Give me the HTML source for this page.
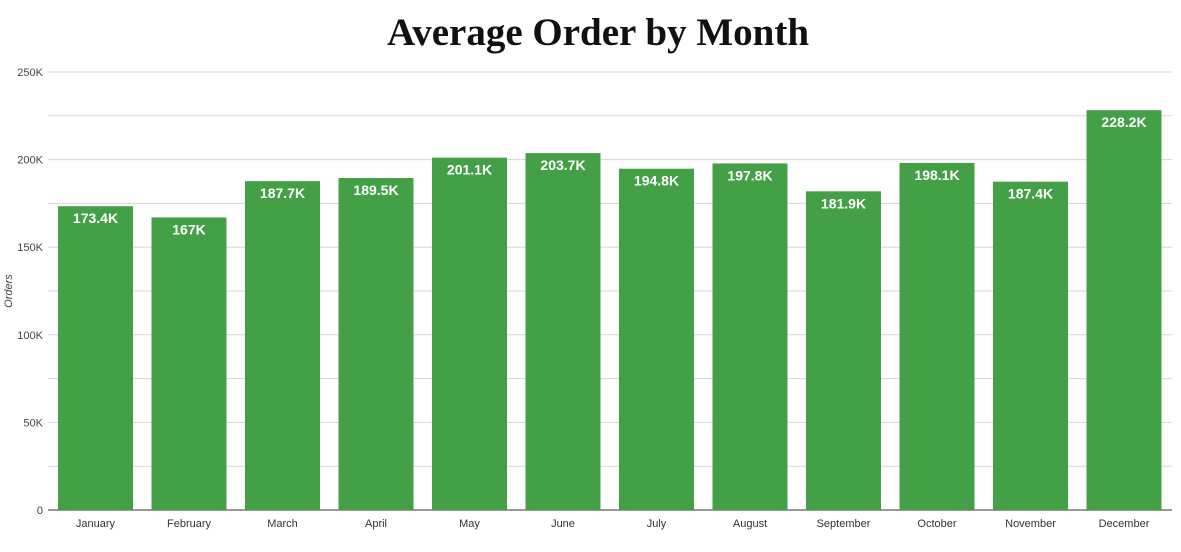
<!DOCTYPE html>
<html><head><meta charset="utf-8"><style>
body{margin:0;background:#fff;width:1181px;height:547px;overflow:hidden}
svg text{font-family:"Liberation Sans",sans-serif}
</style></head><body>
<svg id="chart" width="1181" height="547">
<text x="598" y="45" text-anchor="middle" style="font-family:'Liberation Serif',serif;font-weight:bold;font-size:39px" fill="#111">Average Order by Month</text>
<text transform="translate(12,291) rotate(-90)" text-anchor="middle" font-size="11" font-style="italic" fill="#444">Orders</text>
<g id="grid"></g><g id="bars"></g>
</svg>
<script>
const months=["January","February","March","April","May","June","July","August","September","October","November","December"];
const values=[173.4,167,187.7,189.5,201.1,203.7,194.8,197.8,181.9,198.1,187.4,228.2];
const valueLabels=["173.4K","167K","187.7K","189.5K","201.1K","203.7K","194.8K","197.8K","181.9K","198.1K","187.4K","228.2K"];
const ticks=[0,25,50,75,100,125,150,175,200,225,250];
const ns="http://www.w3.org/2000/svg";
const x0=50,x1=1172,y0=510,y1=72,maxV=250;
const y=v=>y0-(v/maxV)*(y0-y1);
const band=(x1-x0)/months.length;
const g=document.getElementById('grid'),b=document.getElementById('bars');
function mk(tag,attrs,parent){const e=document.createElementNS(ns,tag);for(const k in attrs)e.setAttribute(k,attrs[k]);parent.appendChild(e);return e;}
ticks.forEach(t=>{
  const l=mk('line',{x1:48,x2:x1,y1:y(t),y2:y(t),stroke:t===0?'#333':'#d6d6d6','stroke-width':1},g);
  
  
  if(t%50===0){
    const tx=mk('text',{x:43,y:y(t)+4,'text-anchor':'end','font-size':11,fill:'#444'},g);
    tx.textContent=t===0?'0':t+'K';
    
    
  }
});
months.forEach((m,i)=>{
  const bx=x0+i*band+8,bw=75;
  const r=mk('rect',{x:bx,y:y(values[i]),width:bw,height:y0-y(values[i]),fill:'#43a047'},b);
  
  
  const vt=mk('text',{x:bx+bw/2,y:y(values[i])+17,'text-anchor':'middle','font-size':14,'font-weight':'bold',fill:'#fff'},b);
  vt.textContent=valueLabels[i];
  
  
  const xt=mk('text',{x:bx+bw/2,y:527,'text-anchor':'middle','font-size':11,fill:'#333'},b);
  xt.textContent=m;
  
  
});
</script>
</body></html>
